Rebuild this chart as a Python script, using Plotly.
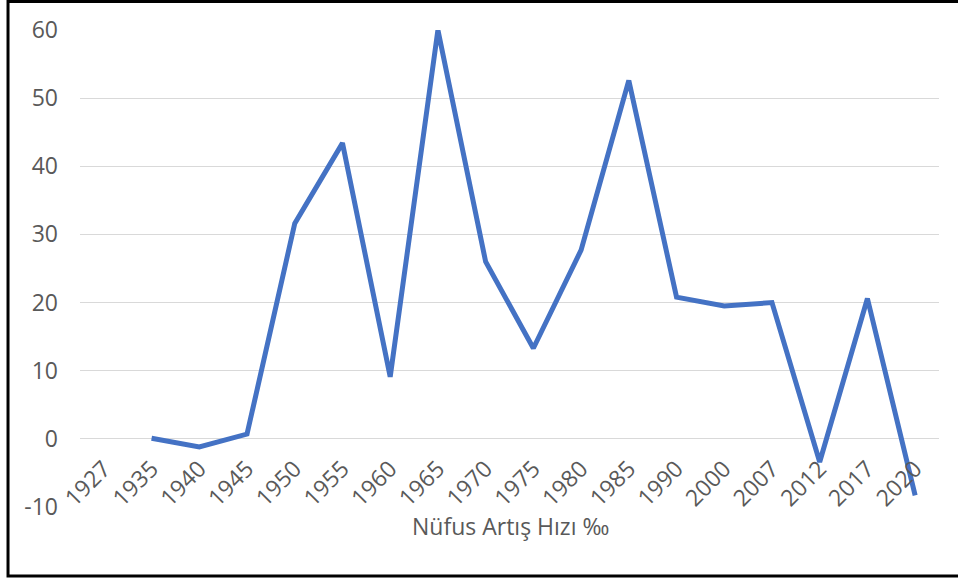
import plotly.graph_objects as go

years = ["1927", "1935", "1940", "1945", "1950", "1955", "1960", "1965", "1970",
         "1975", "1980", "1985", "1990", "2000", "2007", "2012", "2017", "2020"]
growth_rate = [None, 0.1, -1.2, 0.7, 31.6, 43.4, 9.1, 60.0, 26.0,
               13.3, 27.7, 52.6, 20.8, 19.5, 20.0, -3.4, 20.6, -8.3]
y_ticks = [-10, 0, 10, 20, 30, 40, 50, 60]
axis_title = "Nüfus Artış Hızı ‰"

font_family = "Open Sans, Noto Sans, sans-serif"
text_color = "#595959"
fsize = 23

fig = go.Figure()
fig.add_trace(go.Scatter(
    x=years, y=growth_rate, mode="lines",
    line=dict(color="#4472C4", width=5),
    connectgaps=False, hoverinfo="x+y", showlegend=False,
))

ymin, ymax = -10, 60
fig.update_layout(
    width=958, height=581,
    margin=dict(l=80, r=19, t=30, b=74),
    paper_bgcolor="white", plot_bgcolor="white",
    font=dict(family=font_family, color=text_color, size=fsize),
    xaxis=dict(
        type="category", categoryorder="array", categoryarray=years,
        range=[-0.5, len(years) - 0.5],
        anchor="free", position=(0 - ymin) / (ymax - ymin),
        tickangle=-45, showgrid=False, showline=False, ticks="",
        ticklabelstandoff=11,
        tickfont=dict(size=fsize, color=text_color, family=font_family),
        zeroline=False,
    ),
    yaxis=dict(
        range=[ymin, ymax], tickvals=y_ticks, ticktext=[str(v) for v in y_ticks],
        showgrid=True, gridcolor="#d9d9d9", gridwidth=1,
        zeroline=False, showline=False, ticks="",
        ticklabelstandoff=21,
        tickfont=dict(size=fsize, color=text_color, family=font_family),
    ),
    annotations=[dict(
        text=axis_title, xref="paper", yref="paper", x=0.5006, y=-0.04,
        xanchor="center", yanchor="middle", showarrow=False,
        font=dict(size=23, color=text_color, family=font_family),
    )],
    shapes=[dict(
        type="rect", xref="paper", yref="paper",
        x0=-0.0838, x1=1.03, y0=-0.1447, y1=1.0598,
        line=dict(color="black", width=3), fillcolor="rgba(0,0,0,0)",
        layer="above",
    )],
)

fig.write_html("out.html", config={"displayModeBar": False},
               post_script="document.body.style.margin='0';document.body.style.overflow='hidden';")
